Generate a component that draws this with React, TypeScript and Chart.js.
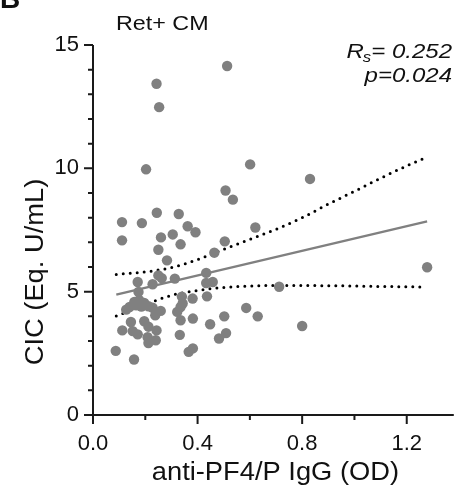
import React, { useEffect, useRef } from 'react';
import { Chart, registerables } from 'chart.js';

Chart.register(...registerables);

// ---- data ----
const pointX = [
  0.243, 0.253, 0.513, 0.203, 0.601, 0.507, 0.535, 0.830, 0.111, 0.187,
  0.244, 0.328, 0.111, 0.260, 0.305, 0.362, 0.392, 0.250, 0.335, 0.283,
  0.504, 0.621, 0.464, 0.433, 1.278, 0.712, 0.800, 0.171, 0.228, 0.250,
  0.263, 0.313, 0.433, 0.458, 0.174, 0.340, 0.381, 0.436, 0.343, 0.335,
  0.322, 0.259, 0.238, 0.586, 0.630, 0.502, 0.382, 0.335, 0.448, 0.145,
  0.196, 0.212, 0.112, 0.152, 0.171, 0.243, 0.332, 0.209, 0.212, 0.240,
  0.509, 0.482, 0.087, 0.157, 0.366, 0.382, 0.140, 0.158, 0.177, 0.196,
  0.212, 0.228, 0.127, 0.165, 0.185,
];
const pointY = [
  13.43, 12.48, 14.15, 9.96, 10.16, 9.10, 8.73, 9.57, 7.82, 7.78,
  8.20, 8.15, 7.08, 7.20, 7.32, 7.65, 7.41, 6.70, 6.92, 6.27,
  7.04, 7.60, 6.58, 5.76, 5.99, 5.20, 3.61, 5.39, 5.30, 5.66,
  5.55, 5.53, 5.35, 5.39, 4.99, 4.80, 4.72, 4.81, 4.52, 4.38,
  4.18, 4.22, 4.04, 4.34, 4.00, 4.00, 3.91, 3.84, 3.68, 3.77,
  3.80, 3.58, 3.43, 3.40, 3.27, 3.43, 3.25, 3.15, 2.92, 3.03,
  3.32, 3.10, 2.60, 2.25, 2.56, 2.70, 4.38, 4.58, 4.65, 4.54,
  4.41, 4.35, 4.27, 4.45, 4.40,
];
const fitX = [0.089, 1.278];
const fitY = [4.88, 7.85];
const ciX = [0.089, 0.2, 0.3, 0.4, 0.5, 0.6, 0.7, 0.8, 0.9, 1.0, 1.1, 1.2, 1.27];
const ciUpper = [5.70, 5.80, 5.98, 6.30, 6.72, 7.12, 7.53, 8.00, 8.55, 9.07, 9.60, 10.10, 10.42];
const ciLower = [4.01, 4.48, 4.85, 5.05, 5.17, 5.23, 5.25, 5.25, 5.24, 5.23, 5.21, 5.20, 5.19];
const xTickValues = [0, 0.4, 0.8, 1.2];
const xTickLabels = ['0.0', '0.4', '0.8', '1.2'];
const yTickValues = [0, 5, 10, 15];
const yTickLabels = ['0', '5', '10', '15'];
const panelLetter = 'B';
const chartTitle = 'Ret+ CM';
const xTitle = 'anti-PF4/P IgG (OD)';
const yTitle = 'CIC (Eq. U/mL)';
const statR = '= 0.252';
const statP = 'p=0.024';

const FONT = '"Liberation Sans", Arial, Helvetica, sans-serif';

function labelFor(v: number, values: number[], labels: string[]) {
  const i = values.findIndex((t) => Math.abs(t - v) < 1e-6);
  return i >= 0 ? labels[i] : '';
}

function stretchText(ctx: any, text: string, x: number, y: number, sx: number) {
  ctx.save();
  ctx.translate(x, y);
  ctx.scale(sx, 1);
  ctx.fillText(text, 0, 0);
  ctx.restore();
}

const decorPlugin = {
  id: 'decor',
  beforeDatasetsDraw(chart: any) {
    const { ctx, chartArea, scales } = chart;
    const { left, right, top, bottom } = chartArea;
    const xs = scales.x;
    const ys = scales.y;
    ctx.save();
    ctx.strokeStyle = '#1a1a1a';
    ctx.lineWidth = 2;
    ctx.lineCap = 'butt';
    ctx.beginPath();
    ctx.moveTo(left, top);
    ctx.lineTo(left, bottom + 1);
    ctx.moveTo(left - 1, bottom);
    ctx.lineTo(right, bottom);
    ys.ticks.forEach((t: any) => {
      const p = ys.getPixelForValue(t.value);
      const major = labelFor(t.value, yTickValues, yTickLabels) !== '';
      ctx.moveTo(left, p);
      ctx.lineTo(left - (major ? 9 : 5), p);
    });
    xs.ticks.forEach((t: any) => {
      const p = xs.getPixelForValue(t.value);
      const major = labelFor(t.value, xTickValues, xTickLabels) !== '';
      ctx.moveTo(p, bottom);
      ctx.lineTo(p, bottom + (major ? 9 : 5));
    });
    ctx.stroke();
    ctx.restore();
  },
  afterDraw(chart: any) {
    const { ctx, chartArea } = chart;
    const { left, right } = chartArea;
    ctx.save();
    ctx.fillStyle = '#111';
    ctx.textBaseline = 'alphabetic';
    // panel letter
    ctx.font = `bold 28px ${FONT}`;
    ctx.textAlign = 'left';
    ctx.fillText(panelLetter, 0, 8);
    // title
    ctx.font = `21px ${FONT}`;
    stretchText(ctx, chartTitle, 116, 30, 1.11);
    // stats (right aligned at xr)
    const sx = 1.2;
    const xr = 452;
    ctx.font = `italic 20px ${FONT}`;
    const w1 = ctx.measureText(statR).width * sx;
    stretchText(ctx, statR, xr - w1, 58, sx);
    ctx.font = `italic 14px ${FONT}`;
    const ws = ctx.measureText('s').width * sx;
    stretchText(ctx, 's', xr - w1 - ws, 62, sx);
    ctx.font = `italic 20px ${FONT}`;
    const wR = ctx.measureText('R').width * sx;
    stretchText(ctx, 'R', xr - w1 - ws - wR + 1, 58, sx);
    const wp = ctx.measureText(statP).width * sx;
    stretchText(ctx, statP, xr - wp, 82, sx);
    // axis titles
    ctx.font = `26px ${FONT}`;
    ctx.textAlign = 'center';
    stretchText(ctx, xTitle, (left + right) / 2 + 2, 480, 1.05);
    ctx.save();
    ctx.translate(43, 272);
    ctx.rotate(-Math.PI / 2);
    ctx.scale(1.05, 1);
    ctx.fillText(yTitle, 0, 0);
    ctx.restore();
    ctx.restore();
  },
};

export default function App() {
  const ref = useRef<HTMLCanvasElement | null>(null);
  useEffect(() => {
    document.body.style.margin = '0';
    const canvas = ref.current!;
    const chart = new Chart(canvas, {
      type: 'scatter',
      data: {
        datasets: [
          {
            data: pointX.map((x, i) => ({ x, y: pointY[i] })),
            backgroundColor: '#808080',
            borderWidth: 0,
            pointRadius: 5.2,
          },
          {
            data: fitX.map((x, i) => ({ x, y: fitY[i] })),
            showLine: true,
            borderColor: '#808080',
            borderWidth: 2.5,
            pointRadius: 0,
          },
          {
            data: ciX.map((x, i) => ({ x, y: ciUpper[i] })),
            showLine: true,
            borderColor: '#000',
            borderWidth: 3,
            borderDash: [0, 7],
            borderCapStyle: 'round',
            cubicInterpolationMode: 'monotone',
            pointRadius: 0,
          },
          {
            data: ciX.map((x, i) => ({ x, y: ciLower[i] })),
            showLine: true,
            borderColor: '#000',
            borderWidth: 3,
            borderDash: [0, 7],
            borderCapStyle: 'round',
            cubicInterpolationMode: 'monotone',
            pointRadius: 0,
          },
        ],
      },
      options: {
        animation: false,
        responsive: false,
        devicePixelRatio: 1,
        layout: { padding: { top: 45, right: 0, left: 0, bottom: 0 } },
        plugins: { legend: { display: false }, tooltip: { enabled: false } },
        scales: {
          x: {
            type: 'linear',
            min: 0,
            max: 1.38,
            grid: { display: false, drawTicks: false },
            border: { display: false },
            ticks: {
              stepSize: 0.2,
              includeBounds: false,
              autoSkip: false,
              maxRotation: 0,
              padding: 16,
              color: '#111',
              font: { family: FONT, size: 22 },
              callback: (v: any) => labelFor(Number(v), xTickValues, xTickLabels),
            },
            afterFit: (s: any) => {
              s.height = 78;
            },
          },
          y: {
            type: 'linear',
            min: 0,
            max: 15,
            grid: { display: false, drawTicks: false },
            border: { display: false },
            ticks: {
              stepSize: 1,
              autoSkip: false,
              padding: 14,
              color: '#111',
              font: { family: FONT, size: 22 },
              callback: (v: any) => labelFor(Number(v), yTickValues, yTickLabels),
            },
            afterFit: (s: any) => {
              s.width = 93;
            },
          },
        },
      },
      plugins: [decorPlugin],
    });
    return () => chart.destroy();
  }, []);
  return (
    <div style={{ width: 459, height: 493 }}>
      <canvas ref={ref} width={459} height={493} />
    </div>
  );
}
